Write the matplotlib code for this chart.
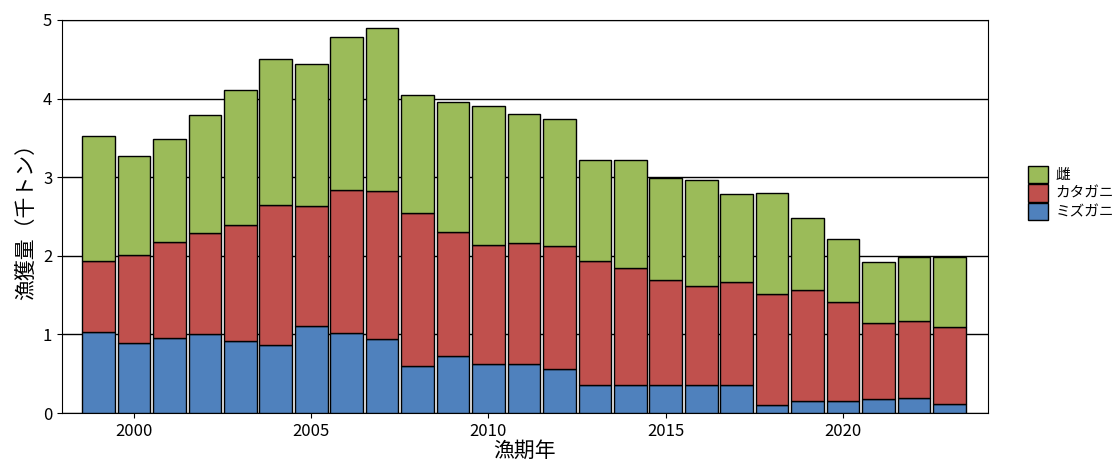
import matplotlib
matplotlib.use("Agg")
import matplotlib.pyplot as plt
import numpy as np

plt.rcParams['font.family'] = ['Noto Sans CJK JP', 'DejaVu Sans']

years = list(range(1999, 2024))
mizu = [1.03,0.89,0.95,1.00,0.92,0.87,1.11,1.02,0.94,0.60,0.73,0.62,0.62,0.56,0.35,0.36,0.35,0.36,0.36,0.10,0.15,0.15,0.18,0.19,0.12]
kata_top = [1.94,2.01,2.18,2.29,2.39,2.64,2.63,2.84,2.82,2.54,2.30,2.14,2.16,2.12,1.94,1.84,1.69,1.61,1.67,1.51,1.57,1.41,1.14,1.17,1.09]
total = [3.53,3.27,3.48,3.79,4.11,4.50,4.44,4.79,4.90,4.05,3.96,3.91,3.81,3.74,3.22,3.22,2.99,2.96,2.79,2.80,2.48,2.21,1.92,1.99,1.99]
kata = [k - m for k, m in zip(kata_top, mizu)]
mesu = [t - k for t, k in zip(total, kata_top)]

fig = plt.figure(figsize=(11.17, 4.68), dpi=100)
ax = fig.add_axes([62/1117, 1-413/468, 926/1117, 393/468])
w = 0.92
ek = dict(edgecolor='black', linewidth=1.0, width=w, zorder=3)
b1 = ax.bar(years, mizu, color='#4F81BD', label='ミズガニ', **ek)
b2 = ax.bar(years, kata, bottom=mizu, color='#C0504D', label='カタガニ', **ek)
b3 = ax.bar(years, mesu, bottom=kata_top, color='#9BBB59', label='雌', **ek)
ax.set_xlim(1997.97, 2024.09)
ax.set_ylim(0, 5)
ax.set_xticks([2000, 2005, 2010, 2015, 2020])
ax.set_yticks([0, 1, 2, 3, 4, 5])
ax.yaxis.grid(True, color='black', linewidth=1, zorder=0)
ax.tick_params(labelsize=12)
ax.set_xlabel('漁期年', fontsize=15, labelpad=0)
ax.set_ylabel('漁獲量（千トン）', fontsize=15)
ax.legend(handles=[b3, b2, b1], loc='center left', bbox_to_anchor=(1.035, 0.56), frameon=False, fontsize=10.5, handlelength=1.4, handleheight=1.5, labelspacing=0.05, handletextpad=0.5, borderpad=0)
fig.savefig('out.png', dpi=100)
